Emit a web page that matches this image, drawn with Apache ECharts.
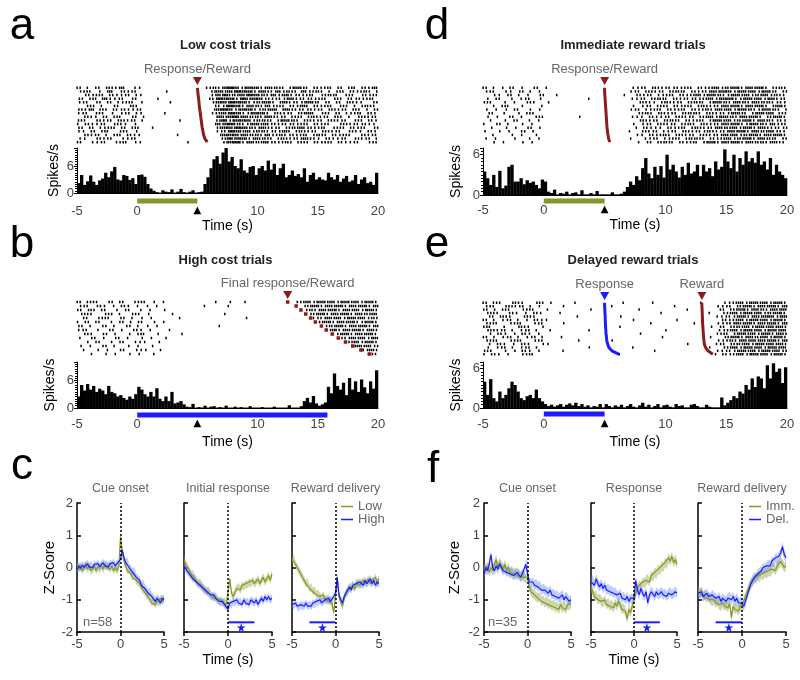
<!DOCTYPE html>
<html>
<head>
<meta charset="utf-8">
<title>Spike rasters and z-scores</title>
<script src="https://cdn.jsdelivr.net/npm/echarts@6/dist/echarts.min.js"></script>
<style>
  html, body { margin: 0; padding: 0; background: #fff; }
  #main { width: 800px; height: 680px; }
</style>
</head>
<body>
<div id="main"></div>
<script>
// ---------- data ----------
var TIME_MIN = -5, TIME_MAX = 20;
var HIST_BIN = 0.25;      // s per histogram bin
var RASTER_BIN = 0.5;     // s per raster character

// peri-event histograms, spikes/s, bins of 0.25 s from -5 to 20
var histA = [
  2.2,4.0,1.8,2.6,3.9,2.5,1.8,2.8,3.2,4.5,3.5,4.8,5.8,3.0,2.8,4.0,3.8,2.9,3.3,2.0,
  4.0,4.1,3.6,2.0,1.0,0.5,0.2,0.1,0.6,0.3,0.2,0.8,0.1,0.3,0.9,0.2,0.1,0.3,0.6,0.1,
  0.2,0.3,2.0,3.5,5.5,7.5,8.2,6.5,9.0,10.0,7.0,8.0,6.0,5.5,7.5,5.0,4.5,5.8,6.0,4.0,
  5.5,6.0,5.0,7.2,5.2,6.5,4.0,5.5,6.5,3.5,4.0,5.0,3.8,4.2,3.5,5.5,2.5,4.0,4.5,3.0,
  3.5,3.0,2.8,4.5,3.5,3.0,4.0,2.5,3.2,3.8,2.5,2.8,4.0,2.0,3.0,3.5,2.2,2.5,1.8,4.5
];
var histD = [
  3.5,2.5,1.5,3.0,1.2,3.6,1.0,1.4,4.2,4.5,2.0,2.0,2.5,1.6,2.2,1.8,2.0,1.5,1.0,2.3,
  2.0,0.5,0.3,0.8,0.1,0.3,0.2,0.5,0.1,0.3,0.4,0.1,0.7,0.1,0.1,0.3,0.1,0.6,0.1,0.1,
  0.1,0.1,0.4,0.1,0.1,0.2,0.5,1.2,2.0,1.5,2.8,2.2,4.0,5.5,3.2,2.5,4.2,3.0,4.3,2.6,
  6.0,3.8,4.5,3.5,2.6,4.2,3.0,4.8,3.2,3.5,4.5,2.8,4.5,3.5,4.0,2.8,5.0,3.8,4.2,6.8,
  5.0,4.0,6.0,3.5,5.5,4.5,6.5,5.0,5.5,4.8,6.5,4.5,5.0,3.8,5.5,3.0,4.5,3.5,3.0,2.5
];
var histB = [
  2.5,5.0,3.8,5.2,4.0,4.8,3.5,4.2,3.8,3.0,4.8,3.5,3.2,2.5,2.8,2.2,1.8,2.5,2.0,3.0,
  4.6,4.0,3.0,2.5,3.5,2.5,4.3,2.0,1.5,2.5,1.5,3.5,1.0,1.2,1.5,0.8,0.3,0.2,0.9,0.1,
  0.2,0.1,0.5,0.1,0.3,0.4,0.1,0.2,0.1,0.5,0.1,0.1,0.3,0.1,0.2,0.1,0.1,0.4,0.1,0.1,
  0.1,0.2,0.1,0.1,0.1,0.3,0.1,0.1,0.1,0.1,0.6,0.1,0.1,0.1,0.4,1.5,2.2,1.2,2.6,1.0,
  0.5,0.8,1.2,4.6,3.2,7.5,4.8,4.0,5.5,2.8,6.5,4.0,5.8,3.5,6.2,4.5,3.2,5.8,4.2,8.2
];
var histE = [
  4.0,2.0,4.4,1.5,1.0,2.5,1.5,2.0,3.0,4.0,3.5,2.5,1.5,1.2,1.8,2.0,1.5,2.8,1.5,1.0,
  0.6,0.3,0.5,0.2,0.4,0.6,0.2,0.5,0.7,0.4,0.8,0.3,0.6,0.2,0.4,0.1,0.3,0.2,0.6,0.1,
  0.6,0.3,0.1,0.4,0.2,0.5,0.1,0.3,0.6,0.2,0.1,0.4,0.8,0.2,0.5,0.1,0.3,0.6,0.1,0.4,
  0.5,0.2,0.1,0.6,0.3,0.4,0.1,0.1,0.5,0.6,0.3,0.1,0.1,0.5,0.2,0.1,0.1,0.1,1.6,0.4,
  0.8,1.2,1.8,1.5,2.5,2.2,3.5,2.8,4.5,3.2,4.8,4.5,3.0,6.5,4.5,6.8,5.5,6.0,3.8,6.2
];

// rasters: one string per trial, one digit per 0.5 s bin = number of spikes
var rasterA = [
  "2102121301 1000000000 0122343233 2322123212 1212021213",
  "1211030212 0000100000 0023234332 3213221312 2102121221",
  "0212121121 1000000000 0013422343 2231322121 1221120212",
  "2021311202 0001000000 0024332423 3212231221 2112022121",
  "1202021121 1000010000 0013343322 2321312232 1202121102",
  "0120102012 0000000000 0002243232 2312121312 1211201221",
  "2131202211 2000000000 0013432332 2231321221 2121212012",
  "1202110121 1000100000 0012343223 3212121231 1202112121",
  "0211202102 0100000000 0003234322 2321212122 1212011212",
  "2102121212 1000000100 0002423332 2212322121 2121202121",
  "1211202111 0000000000 0003342223 2321221212 1201212211",
  "2021121202 1010000000 0002334322 3212122321 2112121202",
  "1120210211 0000000000 0001243232 2221312212 1212021121",
  "0212102121 1000001000 0001333322 2312221212 2121210212",
  "1102120112 0000000000 0000243323 2212212321 1211202121",
  "2011201211 1000000010 0000234232 2321221212 1212112012"
];
var rasterD = [
  "2101201020 1000000000 0000112121 2212121232 2323232122",
  "1201102101 0000000000 0000121212 1221212323 3232323212",
  "0110210102 0010000000 0001021211 2121232322 2323223221",
  "1020101201 0000000100 0000112122 1212212323 3223232312",
  "2101010210 1000000000 0000012112 2121221232 2322322221",
  "0102101001 0000000000 0000101212 1212122123 2323232132",
  "1011020101 0000000000 0000121121 2121212232 3232223221",
  "0201010210 0000000000 0000012212 1212221212 2321232312",
  "1010201012 0000010000 0000111211 2121212323 2232321232",
  "0101020101 0000000000 0000012121 2212121232 3223232221",
  "1020101010 0000000000 0000101212 1212212123 2322322312",
  "0101010201 0000000000 0000012111 2121221232 2323232122",
  "1010102010 0000000000 0000102121 1212122212 3232322321",
  "0100101010 0000000000 0000011212 2121212123 2322323232",
  "1010010101 0000000000 0000101121 1212221212 3223232212",
  "0101001010 0000000000 0000010212 2121212323 2323222321"
];
var rasterB = [
  "2121020201 2110100000 0001010100 0000001232 3232323232",
  "1202101210 1101000000 0100010000 0000000123 2323232323",
  "2120201020 1010100000 0000000000 0000000022 3232323232",
  "1210120102 1100010000 0000100000 0000000012 3232323223",
  "0201210201 1010000100 0000000010 0000000001 2323232322",
  "1202010210 2010100000 0000000000 0000000000 2323232232",
  "2010201020 1101000000 0001000000 0000000000 0223232323",
  "1201020102 1010010000 0000000000 0000000000 0032323232",
  "0210201010 2101000100 0000000000 0000000000 0002323232",
  "1020102010 1010100000 0000000000 0000000000 0000232323",
  "0102010201 1101000000 0000000000 0000000000 0000023232",
  "1010201010 1010000000 0000000000 0000000000 0000003232",
  "0101010201 1101000000 0000000000 0000000000 0000000232",
  "0010101010 1010000000 0000000000 0000000000 0000000012"
];
var rasterE = [
  "2120121012 0100010000 0001000100 0000010001 1232323232",
  "1201212101 0001000000 0100000000 0100000011 2123232323",
  "2102101210 1000000100 0000010000 0001000002 1232322323",
  "1210210121 0010000000 0000000001 0000000101 2323232232",
  "0212101210 0000010000 0010000000 0000000011 2232323323",
  "2101210121 1000000000 0000100000 0100000002 1232323232",
  "1210121012 0001000000 0000000100 0000100011 2323232323",
  "2101012101 0000000000 0010000000 0000000102 1223232332",
  "1212101210 0100000100 0000000000 1000000011 2323232323",
  "0121012101 0000000000 0000010000 0000000012 1232323232",
  "2101210121 0010000000 0000000001 0000000101 2323223232",
  "1210121012 0000010000 0100000000 0000000011 2232332323",
  "0121012101 1000000000 0000000000 0001000012 1223232332",
  "1012101210 0000000100 0000100000 0000000101 2323232323",
  "2101012101 0001000000 0000000010 0000000011 2232323232",
  "1210101210 0000000000 0010000000 0000000012 1232323232"
];

// event times per trial (s), same row order as the rasters
var respA   = [5.0,5.03,5.06,5.1,5.13,5.16,5.2,5.24,5.28,5.32,5.36,5.4,5.46,5.52,5.62,5.82];
var respD   = [5.0,5.0,5.02,5.04,5.06,5.08,5.1,5.12,5.14,5.16,5.18,5.2,5.24,5.28,5.33,5.42];
var respB   = [12.5,13.2,13.6,14.0,14.4,14.8,15.3,15.7,16.2,16.7,17.3,17.9,18.6,19.3];
var respE   = [5.0,5.0,5.02,5.03,5.05,5.05,5.07,5.08,5.1,5.12,5.15,5.18,5.25,5.35,5.6,6.2];
var rewardE = [13.0,13.0,13.02,13.03,13.04,13.05,13.06,13.08,13.1,13.12,13.14,13.17,13.2,13.3,13.5,13.9];

// cue-light intervals (s)
var cueA = [0, 5], cueD = [0, 5], cueB = [0, 15.8], cueE = [0, 5];

// z-score traces, sampled every 0.2 s from -5 to 5
var traceTimes = [];
for (var i = 0; i <= 50; i++) traceTimes.push(Math.round((-5 + i * 0.2) * 10) / 10);

var cueLowC = [0.1,-0.05,0.05,-0.1,0.0,0.1,-0.05,0.05,-0.1,-0.05, 0.05,-0.1,0.0,-0.05,0.05,-0.05,0.1,0.0,0.05,-0.05, 0.05,-0.1,0.0,-0.1,0.0, 0.95, 0.5,0.2,0.05,-0.1,-0.05, -0.2,-0.3,-0.25,-0.4,-0.45,-0.5,-0.6,-0.7,-0.75,-0.85, -0.9,-1.0,-1.1,-1.05,-1.15,-1.05,-1.1,-0.95,-1.05,-0.95];
var cueHighC = [-0.05,0.05,-0.02,0.08,0.0,0.05,0.12,0.02,0.08,0.0, 0.1,0.05,0.12,0.03,0.08,0.15,0.05,0.1,0.02,0.12, 0.08,0.15,0.05,0.12,0.1, 0.25, 0.55,0.3,0.15,0.2,0.0, -0.05,-0.15,-0.1,-0.3,-0.35,-0.4,-0.55,-0.5,-0.65,-0.7, -0.8,-0.75,-0.9,-0.95,-1.05,-0.95,-1.0,-1.1,-0.95,-1.0];
var respLowC = [0.25,0.1,0.0,-0.1,-0.2,-0.2,-0.35,-0.4,-0.5,-0.45, -0.55,-0.65,-0.7,-0.75,-0.7,-0.85,-0.9,-0.95,-0.9,-1.0, -1.05,-1.0,-1.1,-1.05,-1.15, -1.1, -0.35,-0.8,-0.9,-0.75,-0.65, -0.6,-0.7,-0.55,-0.6,-0.5,-0.55,-0.45,-0.5,-0.4,-0.5, -0.45,-0.35,-0.5,-0.4,-0.3,-0.45,-0.35,-0.25,-0.4,-0.2];
var respHighC = [0.05,-0.05,-0.1,-0.2,-0.25,-0.35,-0.3,-0.45,-0.5,-0.55, -0.6,-0.65,-0.7,-0.75,-0.8,-0.85,-0.9,-0.85,-0.95,-1.0, -1.05,-1.1,-1.05,-1.15,-1.2, -1.3, -1.1,-1.15,-1.05,-1.1,-1.0, -1.1,-1.05,-1.15,-1.0,-1.1,-1.05,-1.15,-1.0,-1.05,-1.1, -1.0,-1.15,-1.05,-0.95,-1.05,-0.9,-1.0,-0.9,-1.0,-0.95];
var rewLowC = [0.25,0.3,0.1,0.0,-0.1,-0.2,-0.3,-0.4,-0.5,-0.45, -0.65,-0.6,-0.75,-0.7,-0.85,-0.8,-0.9,-0.95,-0.85,-1.0, -0.95,-1.05,-1.0,-1.1,-1.4, -0.9, -0.35,-0.9,-1.05,-1.2,-0.95, -0.8,-0.7,-0.65,-0.6,-0.55,-0.65,-0.5,-0.45,-0.55,-0.5, -0.4,-0.5,-0.45,-0.35,-0.5,-0.4,-0.45,-0.3,-0.5,-0.35];
var rewHighC = [-1.15,-1.2,-1.1,-1.2,-1.25,-1.15,-1.2,-1.2,-1.1,-1.2, -1.15,-1.2,-1.1,-1.15,-1.05,-1.1,-1.0,-1.1,-1.05,-1.0, -1.05,-0.95,-1.05,-1.0,-0.9, -0.8, -0.3,-0.85,-1.0,-1.1,-0.9, -0.8,-0.75,-0.6,-0.7,-0.55,-0.6,-0.5,-0.55,-0.45,-0.5, -0.55,-0.4,-0.5,-0.45,-0.35,-0.5,-0.4,-0.55,-0.45,-0.5];

var cueImmF = [0.0,-0.1,0.05,-0.15,0.0,-0.1,0.1,0.25,0.0,0.15, 0.05,-0.05,0.1,-0.1,0.0,-0.15,-0.1,-0.2,-0.15,-0.25, -0.2,-0.3,-0.25,-0.3,-0.35, -0.3, -0.6,-0.75,-0.8,-0.85,-0.9, -0.95,-0.9,-1.05,-1.0,-1.1,-1.05,-1.15,-1.1,-1.2,-1.15, -1.25,-1.2,-1.3,-1.15,-1.25,-1.2,-1.3,-1.15,-1.2,-1.1];
var cueDelF = [-0.2,0.0,-0.1,0.1,0.4,0.0,-0.1,0.05,-0.05,0.1, 0.0,-0.1,-0.05,-0.15,-0.1,-0.2,-0.15,-0.25,-0.2,-0.15, -0.2,-0.3,-0.2,-0.25,0.1, 0.05, -0.45,-0.5,-0.45,-0.55,-0.5, -0.6,-0.55,-0.7,-0.65,-0.7,-0.75,-0.8,-0.7,-0.85,-0.8, -0.9,-0.85,-0.95,-0.9,-0.85,-1.0,-0.9,-0.95,-1.05,-1.0];
var respImmF = [-0.6,-0.75,-0.9,-0.85,-1.0,-0.95,-1.05,-1.1,-1.0,-1.15, -1.1,-1.2,-1.15,-1.25,-1.1,-1.2,-1.05,-1.15,-1.3,-1.25, -1.35,-1.6,-1.3,-1.4,-1.2, -1.0, -0.8,-0.65,-0.55,-0.6,-0.45, -0.5,-0.4,-0.35,-0.45,-0.25,-0.3,-0.15,-0.2,-0.05,-0.1, 0.05,0.0,0.15,0.1,0.3,0.2,0.35,0.15,0.25,0.1];
var respDelF = [-0.45,-0.4,-0.55,-0.35,-0.5,-0.6,-0.5,-0.65,-0.55,-0.7, -0.65,-0.75,-0.7,-0.8,-0.75,-0.85,-0.9,-0.8,-0.95,-0.9, -1.0,-0.9,-1.05,-0.95,-1.0, -0.95, -0.4,-0.7,-0.85,-0.65,-0.8, -0.9,-0.75,-1.1,-0.85,-0.75,-0.8,-0.9,-0.75,-0.85,-0.8, -0.75,-0.85,-0.8,-0.9,-0.8,-0.75,-0.85,-0.8,-0.75,-0.8];
var rewImmF = [-0.7,-0.8,-0.75,-0.9,-0.85,-0.95,-0.9,-1.0,-1.05,-1.0, -1.1,-1.05,-1.15,-1.2,-1.1,-1.2,-1.15,-1.25,-1.1,-1.55, -1.2,-1.3,-1.25,-1.35,-1.2, -1.25, -1.05,-0.9,-0.75,-0.6,-0.5, -0.45,-0.35,-0.3,-0.25,-0.3,-0.2,-0.25,-0.15,-0.2,-0.1, -0.15,-0.05,0.0,-0.1,0.05,0.1,0.2,0.1,0.0,0.05];
var rewDelF = [-0.8,-0.85,-0.75,-0.9,-0.85,-0.8,-0.9,-0.95,-0.85,-0.9, -0.95,-1.0,-0.9,-1.05,-0.95,-1.0,-1.05,-0.95,-0.9,-1.0, -0.9,-1.05,-0.95,-1.1,-1.05, -1.1, -1.2,-1.05,-0.85,-0.7,-0.5, -0.4,-0.3,-0.35,-0.2,-0.15,-0.1,0.0,-0.05,0.05,0.1, 0.05,0.2,0.15,0.3,0.25,0.35,0.45,0.65,0.4,0.3];

var semC = 0.12, semF = 0.15;         // s.e.m. half-width of the shaded bands
var sigLevel = -1.7, starLevel = -1.86; // z level of significance bars / stars

// ---------- styles ----------
var FONT = '"Liberation Sans", Arial, sans-serif';
var OLIVE = '#86962a', BLUE = '#1c1cff', RED = '#8e1b1b';
var OLIVE_BAND = 'rgba(150,165,70,0.45)', BLUE_BAND = 'rgba(90,130,255,0.40)';
var STAR = 'path://M50,0 L61,35 L98,35 L68,57 L79,91 L50,70 L21,91 L32,57 L2,35 L39,35 Z';

var grids = [], xAxes = [], yAxes = [], series = [], graphics = [];

function addGrid(box, xa, ya) {
  var gi = grids.length;
  grids.push(box);
  xa.gridIndex = gi; ya.gridIndex = gi;
  xAxes.push(xa); yAxes.push(ya);
  return gi;
}
function hidden(min, max, inverse) {
  return { type: 'value', show: false, min: min, max: max, inverse: !!inverse };
}
function text(x, y, str, font, color, align) {
  graphics.push({
    type: 'text', x: x, y: y, silent: true,
    style: { text: str, font: font, fill: color || '#000',
      align: align || 'center', verticalAlign: 'middle',
      textAlign: align || 'center', textVerticalAlign: 'middle' }
  });
}

function rasterPoints(rows) {
  var pts = [];
  rows.forEach(function (row, r) {
    var s = row.replace(/ /g, '');
    for (var b = 0; b < s.length; b++) {
      var n = +s[b];
      // spread ticks across the bin so that columns do not line up
      var shift = ((r * 37 + b * 17) % 23) / 23 - 0.5;
      for (var k = 0; k < n; k++) {
        pts.push([TIME_MIN + (b + (k + 0.5 + shift * 0.9) / n) * RASTER_BIN, r]);
      }
    }
  });
  return pts;
}

function spikePanel(p) {
  var nRows = p.raster.length;
  var rg = addGrid({ left: p.left, width: p.width, top: p.rasterTop, height: p.rasterH },
    hidden(TIME_MIN, TIME_MAX), hidden(-0.5, nRows - 0.5, true));
  series.push({
    type: 'scatter', xAxisIndex: rg, yAxisIndex: rg, silent: true,
    symbol: 'rect', symbolSize: [1.5, 2.5], itemStyle: { color: '#000', opacity: 1 },
    data: rasterPoints(p.raster)
  });
  p.events.forEach(function (ev) {
    var pts = ev.times.map(function (t, r) { return [t, r]; });
    if (ev.dots) {
      series.push({ type: 'scatter', xAxisIndex: rg, yAxisIndex: rg, silent: true, z: 4,
        symbol: 'rect', symbolSize: 3.5, itemStyle: { color: ev.color, opacity: 1 }, data: pts });
    } else {
      series.push({ type: 'line', xAxisIndex: rg, yAxisIndex: rg, silent: true, z: 4,
        symbol: 'none', lineStyle: { color: ev.color, width: 3 }, data: pts });
    }
    series.push({
      type: 'scatter', xAxisIndex: rg, yAxisIndex: rg, silent: true, clip: false, z: 4,
      symbol: 'triangle', symbolRotate: 180, symbolSize: [9, 8], symbolOffset: [0, -5],
      itemStyle: { color: ev.color, opacity: 1 },
      label: { show: true, position: 'top', distance: 1, formatter: ev.label,
        color: '#666', fontSize: 13, fontFamily: FONT },
      data: [[ev.times[0], -0.5]]
    });
  });

  var hg = addGrid({ left: p.left, width: p.width, top: p.histTop, height: p.histH },
    {
      type: 'value', min: TIME_MIN, max: TIME_MAX, interval: 5,
      axisLine: { onZero: false, lineStyle: { color: '#000', width: 1 } },
      axisTick: { show: false }, splitLine: { show: false },
      axisLabel: {
        color: '#444', fontSize: 13, fontFamily: FONT, margin: p.xLabelMargin,
        formatter: function (v) { return v === 5 ? '{tri|▲}' : String(v); },
        rich: { tri: { color: '#000', fontSize: 10, fontFamily: 'DejaVu Sans' } }
      },
      name: 'Time (s)', nameLocation: 'middle', nameGap: p.xNameGap,
      nameTextStyle: { color: '#000', fontSize: 14, fontFamily: FONT }
    },
    {
      type: 'value', min: 0, max: p.yMax, interval: 6,
      axisLine: { show: true, onZero: false, lineStyle: { color: '#000', width: 1 } },
      axisTick: { show: true, length: 3, lineStyle: { color: '#000' } },
      minorTick: { show: true, splitNumber: 12, length: 2, lineStyle: { color: '#000' } },
      splitLine: { show: false },
      axisLabel: { color: '#444', fontSize: 13, fontFamily: FONT, margin: 3, showMaxLabel: false },
      name: 'Spikes/s', nameLocation: 'middle', nameGap: p.yNameGap,
      nameTextStyle: { color: '#000', fontSize: 14, fontFamily: FONT }
    });
  series.push({
    type: 'custom', xAxisIndex: hg, yAxisIndex: hg, silent: true,
    data: p.hist.map(function (v, i) { return [TIME_MIN + i * HIST_BIN, v]; }),
    renderItem: function (params, api) {
      var top = api.coord([api.value(0), api.value(1)]);
      var base = api.coord([api.value(0) + HIST_BIN, 0]);
      return { type: 'rect',
        shape: { x: top[0], y: top[1], width: base[0] - top[0] + 0.3, height: base[1] - top[1] },
        style: { fill: '#000' } };
    }
  });

  var cg = addGrid({ left: p.left, width: p.width, top: p.cueTop, height: 6 },
    hidden(TIME_MIN, TIME_MAX), hidden(-1, 1));
  series.push({ type: 'line', xAxisIndex: cg, yAxisIndex: cg, silent: true, symbol: 'none',
    lineStyle: { color: p.cueColor, width: 5, cap: 'butt' },
    data: [[p.cue[0], 0], [p.cue[1], 0]] });

  text(p.letterX, p.letterY, p.letter, '44px ' + FONT);
  text(p.left + p.width / 2 - 2, p.titleY, p.title, 'bold 13px ' + FONT, '#222');
}

function bandSeries(gi, values, sem, color) {
  return {
    type: 'custom', xAxisIndex: gi, yAxisIndex: gi, silent: true,
    data: [[0, 0]],
    renderItem: function (params, api) {
      var upper = [], lower = [];
      for (var i = 0; i < values.length; i++) {
        upper.push(api.coord([traceTimes[i], values[i] + sem]));
        lower.unshift(api.coord([traceTimes[i], values[i] - sem]));
      }
      return { type: 'polygon', shape: { points: upper.concat(lower) }, style: { fill: color } };
    }
  };
}
function meanSeries(gi, name, values, color) {
  return {
    type: 'line', name: name, xAxisIndex: gi, yAxisIndex: gi, silent: true,
    symbol: 'none', lineStyle: { color: color, width: 1.2 }, itemStyle: { color: color },
    data: values.map(function (v, i) { return [traceTimes[i], v]; })
  };
}

function zPanel(p) {
  var gi = addGrid({ left: p.left, width: p.width, top: 503, height: 129 },
    {
      type: 'value', min: -5, max: 5, interval: 5,
      axisLine: { onZero: false, lineStyle: { color: '#000', width: 1.5 } },
      axisTick: { show: true, length: 4, lineStyle: { color: '#000', width: 1.5 } },
      splitLine: { show: false },
      axisLabel: { color: '#444', fontSize: 13, fontFamily: FONT, margin: 6 },
      name: p.timeName ? 'Time (s)' : '', nameLocation: 'middle', nameGap: 21,
      nameTextStyle: { color: '#000', fontSize: 14, fontFamily: FONT }
    },
    {
      type: 'value', min: -2, max: 2, interval: 1,
      axisLine: { show: true, onZero: false, lineStyle: { color: '#000', width: 1.5 } },
      axisTick: { show: true, inside: true, length: 4, lineStyle: { color: '#000', width: 1.5 } },
      splitLine: { show: false },
      axisLabel: { show: !!p.yName, color: '#444', fontSize: 13, fontFamily: FONT, margin: 4 },
      name: p.yName || '', nameLocation: 'middle', nameGap: p.yNameGap,
      nameTextStyle: { color: '#000', fontSize: 15, fontFamily: FONT }
    });
  series.push(bandSeries(gi, p.a, p.sem, OLIVE_BAND));
  series.push(meanSeries(gi, p.names[0], p.a, OLIVE));
  series.push(bandSeries(gi, p.b, p.sem, BLUE_BAND));
  var m = meanSeries(gi, p.names[1], p.b, BLUE);
  m.markLine = { silent: true, symbol: 'none', label: { show: false },
    lineStyle: { color: '#000', type: [2, 2], width: 1.5 }, data: [{ xAxis: 0 }] };
  series.push(m);
  if (p.sig) {
    series.push({ type: 'line', xAxisIndex: gi, yAxisIndex: gi, silent: true, symbol: 'none',
      lineStyle: { color: BLUE, width: 2 },
      data: [[p.sig[0], sigLevel], [p.sig[1], sigLevel]] });
    series.push({ type: 'scatter', xAxisIndex: gi, yAxisIndex: gi, silent: true,
      symbol: STAR, symbolSize: 9, itemStyle: { color: BLUE, opacity: 1 },
      data: [[(p.sig[0] + p.sig[1]) / 2, starLevel]] });
  }
  text(p.left + p.width / 2, 489, p.title, '12.5px ' + FONT, '#666');
  if (p.n) text(p.nX, 622, p.n, '13px ' + FONT, '#666', 'left');
}

// ---------- panels ----------
spikePanel({ letter: 'a', letterX: 22, letterY: 27, title: 'Low cost trials', titleY: 45,
  left: 77, width: 301, rasterTop: 86, rasterH: 58, histTop: 148, histH: 45, cueTop: 198,
  yMax: 10, xLabelMargin: 12, xNameGap: 23, yNameGap: 16,
  hist: histA, raster: rasterA, cue: cueA, cueColor: OLIVE,
  events: [{ label: 'Response/Reward', times: respA, color: RED }] });

spikePanel({ letter: 'd', letterX: 437, letterY: 27, title: 'Immediate reward trials', titleY: 45,
  left: 483, width: 304, rasterTop: 86, rasterH: 58, histTop: 148, histH: 47, cueTop: 198,
  yMax: 7, xLabelMargin: 9, xNameGap: 22, yNameGap: 20,
  hist: histD, raster: rasterD, cue: cueD, cueColor: OLIVE,
  events: [{ label: 'Response/Reward', times: respD, color: RED }] });

spikePanel({ letter: 'b', letterX: 22, letterY: 245, title: 'High cost trials', titleY: 260,
  left: 77, width: 301, rasterTop: 300, rasterH: 56, histTop: 362, histH: 46, cueTop: 412,
  yMax: 10, xLabelMargin: 10, xNameGap: 27, yNameGap: 20,
  hist: histB, raster: rasterB, cue: cueB, cueColor: BLUE,
  events: [{ label: 'Final response/Reward', times: respB, color: RED, dots: true }] });

spikePanel({ letter: 'e', letterX: 437, letterY: 245, title: 'Delayed reward trials', titleY: 260,
  left: 483, width: 304, rasterTop: 301, rasterH: 55, histTop: 362, histH: 46, cueTop: 411,
  yMax: 7, xLabelMargin: 10, xNameGap: 27, yNameGap: 20,
  hist: histE, raster: rasterE, cue: cueE, cueColor: BLUE,
  events: [{ label: 'Response', times: respE, color: BLUE },
           { label: 'Reward', times: rewardE, color: RED }] });

text(22, 467, 'c', '44px ' + FONT);
zPanel({ left: 77, width: 87, title: 'Cue onset', a: cueLowC, b: cueHighC, sem: semC,
  names: ['Low', 'High'], yName: 'Z-Score', yNameGap: 20, n: 'n=58', nX: 83 });
zPanel({ left: 184, width: 88, title: 'Initial response', a: respLowC, b: respHighC, sem: semC,
  names: ['Low', 'High'], timeName: true, sig: [0, 3] });
zPanel({ left: 292, width: 87, title: 'Reward delivery', a: rewLowC, b: rewHighC, sem: semC,
  names: ['Low', 'High'], sig: [-3, 0] });

text(433, 470, 'f', '44px ' + FONT);
zPanel({ left: 484, width: 87, title: 'Cue onset', a: cueImmF, b: cueDelF, sem: semF,
  names: ['Imm.', 'Del.'], yName: 'Z-Score', yNameGap: 22, n: 'n=35', nX: 488 });
zPanel({ left: 591, width: 86, title: 'Response', a: respImmF, b: respDelF, sem: semF,
  names: ['Imm.', 'Del.'], timeName: true, sig: [0, 3] });
zPanel({ left: 698, width: 88, title: 'Reward delivery', a: rewImmF, b: rewDelF, sem: semF,
  names: ['Imm.', 'Del.'], sig: [-3, 0] });

function legendAt(left, names) {
  return {
    left: left, top: 500, orient: 'vertical', padding: 0, itemGap: 0,
    itemWidth: 12, itemHeight: 1.5, selectedMode: false,
    textStyle: { color: '#666', fontSize: 13, fontFamily: FONT },
    data: names.map(function (n) { return { name: n, icon: 'rect' }; })
  };
}

var chart = echarts.init(document.getElementById('main'), null, { renderer: 'canvas' });
chart.setOption({
  animation: false,
  backgroundColor: '#fff',
  grid: grids,
  xAxis: xAxes,
  yAxis: yAxes,
  legend: [legendAt(341, ['Low', 'High']), legendAt(749, ['Imm.', 'Del.'])],
  graphic: graphics,
  series: series
});
</script>
</body>
</html>
